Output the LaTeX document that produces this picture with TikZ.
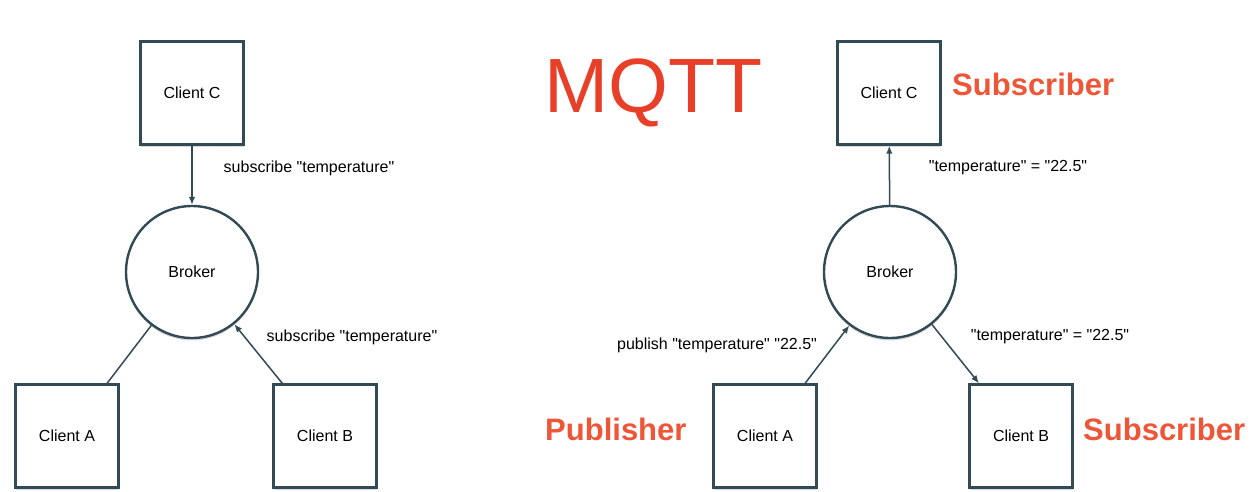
\documentclass[tikz,border=0pt]{standalone}
\usepackage{fontspec}
\setmainfont{Liberation Sans}
\usetikzlibrary{arrows.meta,shadows}
\definecolor{edgegray}{RGB}{50,74,86}
\definecolor{mqttred}{RGB}{232,64,40}
\definecolor{rolered}{RGB}{238,86,56}
\newcommand{\qd}{\textquotedbl}
\begin{document}
\begin{tikzpicture}[x=1pt,y=-1pt,
    client/.style={draw=edgegray,line width=2.4pt,fill=white,
      minimum width=103pt,minimum height=103pt,inner sep=0pt,
      font=\fontsize{16}{19}\selectfont,
      drop shadow={shadow xshift=0pt,shadow yshift=-2.5pt,opacity=0.3,fill=gray}},
    broker/.style={circle,draw=edgegray,line width=2.4pt,fill=white,
      minimum size=132pt,inner sep=0pt,font=\fontsize{16}{19}\selectfont,
      drop shadow={shadow xshift=0pt,shadow yshift=-2.5pt,opacity=0.3,fill=gray}},
    msg/.style={inner sep=0pt,font=\fontsize{16}{19}\selectfont},
    role/.style={inner sep=0pt,text=rolered,font=\fontsize{31}{36}\selectfont\bfseries},
    link/.style={draw=edgegray,line width=1.5pt},
    tip/.style={-{Latex[length=8pt,width=6.5pt]}}]
  \useasboundingbox (0,0) rectangle (1255,491);

  % left: both clients subscribe
  \node[client] (lc) at (192,93) {Client C};
  \node[broker] (lbk) at (192,272) {Broker};
  \node[client] (la) at (67,436) {Client A};
  \node[client] (lb) at (325,436) {Client B};
  \node[msg] (lm1) at (309,168) {subscribe \qd temperature\qd};
  \node[msg] (lm2) at (352,337) {subscribe \qd temperature\qd};

  % right: A publishes, B and C receive
  \node[inner sep=0pt,anchor=base west,text=mqttred,
    font=\fontsize{77}{80}\selectfont] (title) at (544,112) {MQTT};
  \node[client] (rc) at (889,93) {Client C};
  \node[broker] (rbk) at (890,272) {Broker};
  \node[client] (ra) at (765,436) {Client A};
  \node[client] (rb) at (1021,436) {Client B};
  \node[msg] (rm1) at (1008,168) {\qd temperature\qd{} = \qd 22.5\qd};
  \node[msg] (rm2) at (717,345) {publish \qd temperature\qd{} \qd 22.5\qd};
  \node[msg] (rm3) at (1050,337) {\qd temperature\qd{} = \qd 22.5\qd};
  \node[role,anchor=base west] (sub1) at (952,95) {Subscriber};
  \node[role,anchor=base west] (pub) at (545,440) {Publisher};
  \node[role,anchor=base west] (sub2) at (1083,440) {Subscriber};

  \begin{scope}[link]
    \draw[tip] (lc) -- (lbk);
    \draw (la) -- (lbk);
    \draw[tip] (lb) -- (lbk);
    \draw[tip] (rbk) -- (rc);
    \draw[tip] (ra) -- (rbk);
    \draw[tip] (rbk) -- (rb);
  \end{scope}
\end{tikzpicture}
\end{document}
